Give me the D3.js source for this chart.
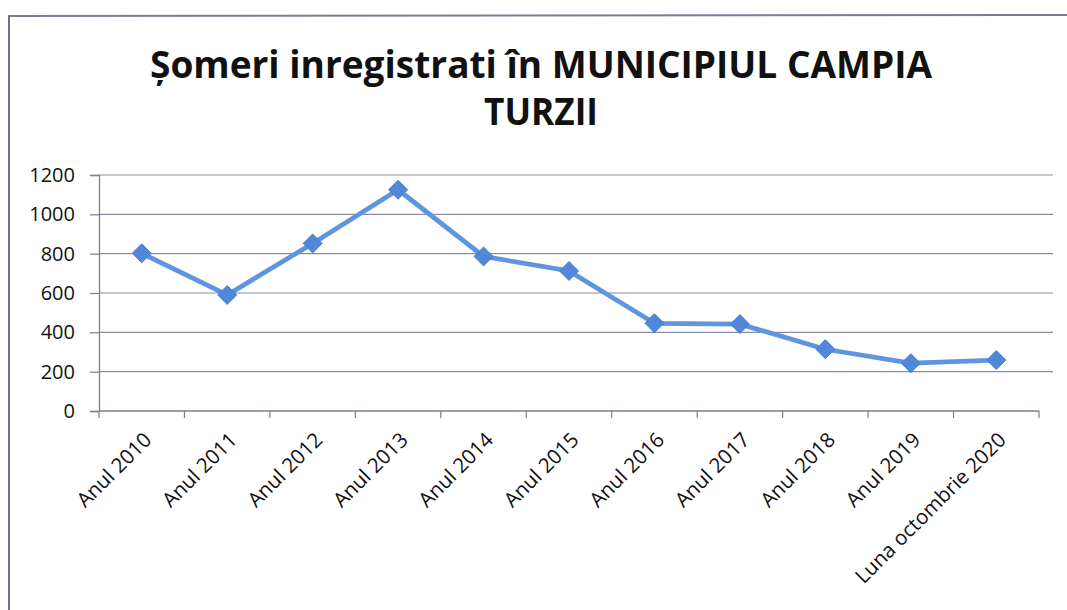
<!DOCTYPE html>
<html>
<head>
<meta charset="utf-8">
<script src="https://cdn.jsdelivr.net/npm/d3@7"></script>
<style>
  html, body { margin: 0; padding: 0; background: #ffffff; }
  svg { display: block; }
  text { font-family: "Open Sans", "Noto Sans", sans-serif; fill: #111; }
</style>
</head>
<body>
<svg id="chart" width="1067" height="610"></svg>
<script>
// Registered unemployed, Câmpia Turzii municipality
const categories = [
  "Anul 2010", "Anul 2011", "Anul 2012", "Anul 2013", "Anul 2014", "Anul 2015",
  "Anul 2016", "Anul 2017", "Anul 2018", "Anul 2019", "Luna octombrie 2020"
];
const someri = [802, 590, 852, 1125, 786, 712, 446, 442, 314, 243, 259];
const yTicks = [0, 200, 400, 600, 800, 1000, 1200];
const titleLines = ["Șomeri inregistrati în MUNICIPIUL CAMPIA", "TURZII"];

const svg = d3.select("#chart");
const W = 1067, H = 610;
const plot = { left: 99, right: 1039, top: 175, bottom: 411 };

// outer frame
svg.append("line").attr("x1", 8).attr("y1", 16).attr("x2", W).attr("y2", 15)
  .attr("stroke", "#7b7d92").attr("stroke-width", 2);
svg.append("line").attr("x1", 9).attr("y1", 16).attr("x2", 9).attr("y2", H)
  .attr("stroke", "#6e7084").attr("stroke-width", 2);

// title
svg.append("g").selectAll("text").data(titleLines).join("text")
  .attr("x", 541)
  .attr("y", (d, i) => 78 + i * 47)
  .attr("text-anchor", "middle")
  .attr("font-size", 38)
  .attr("font-weight", 700)
  .attr("fill", "#222")
  .attr("textLength", (d, i) => i === 0 ? 782 : 114)
  .attr("lengthAdjust", "spacingAndGlyphs")
  .text(d => d);

const x = d3.scaleBand().domain(categories).range([plot.left, plot.right]);
const y = d3.scaleLinear().domain([0, 1200]).range([plot.bottom, plot.top]);

// horizontal gridlines
svg.append("g").selectAll("line").data(yTicks.slice(1)).join("line")
  .attr("x1", plot.left).attr("x2", 1053)
  .attr("y1", d => y(d)).attr("y2", d => y(d))
  .attr("stroke", "#8b8ca2").attr("stroke-width", 1.2);

// y axis
const yAxis = svg.append("g")
  .attr("transform", `translate(${plot.left},0)`)
  .call(d3.axisLeft(y).tickValues(yTicks).tickFormat(d3.format("d")).tickSize(9).tickPadding(15));
yAxis.select(".domain").attr("stroke", "#7c7d90").attr("stroke-width", 1.3);
yAxis.selectAll(".tick line").attr("stroke", "#7c7d90").attr("stroke-width", 1.2);
yAxis.selectAll(".tick text").attr("font-size", 20).attr("fill", "#111")
  .style("font-family", '"Open Sans", sans-serif');

// x axis with ticks between categories
const xAxisG = svg.append("g").attr("transform", `translate(0,${plot.bottom})`);
xAxisG.append("line").attr("x1", plot.left).attr("x2", plot.right)
  .attr("y1", 0).attr("y2", 0).attr("stroke", "#7c7d90").attr("stroke-width", 1.3);
const edges = categories.map(c => x(c)).concat([plot.right]);
xAxisG.selectAll("line.tk").data(edges).join("line").attr("class", "tk")
  .attr("x1", d => d).attr("x2", d => d).attr("y1", 0).attr("y2", 7)
  .attr("stroke", "#7c7d90").attr("stroke-width", 1.2);
xAxisG.selectAll("text").data(categories).join("text")
  .attr("transform", d => `translate(${x(d) + x.bandwidth() / 2 + 6},${25}) rotate(-45)`)
  .attr("text-anchor", "end")
  .attr("dy", "0.35em")
  .attr("font-size", 20.5)
  .attr("fill", "#111")
  .text(d => d);

// series line
const cx = d => x(d) + x.bandwidth() / 2;
const line = d3.line().x((d, i) => cx(categories[i])).y(d => y(d));
svg.append("path").datum(someri)
  .attr("d", line)
  .attr("fill", "none")
  .attr("stroke", "#5f95de")
  .attr("stroke-width", 4.8)
  .attr("stroke-linejoin", "round");

// diamond markers
const diamond = d3.symbol().type(d3.symbolDiamond2).size(230);
svg.append("g").selectAll("path").data(someri).join("path")
  .attr("transform", (d, i) => `translate(${cx(categories[i])},${y(d)})`)
  .attr("d", diamond)
  .attr("fill", "#5087d8")
  .attr("stroke", "#4a7fd0")
  .attr("stroke-width", 1);
</script>
</body>
</html>
